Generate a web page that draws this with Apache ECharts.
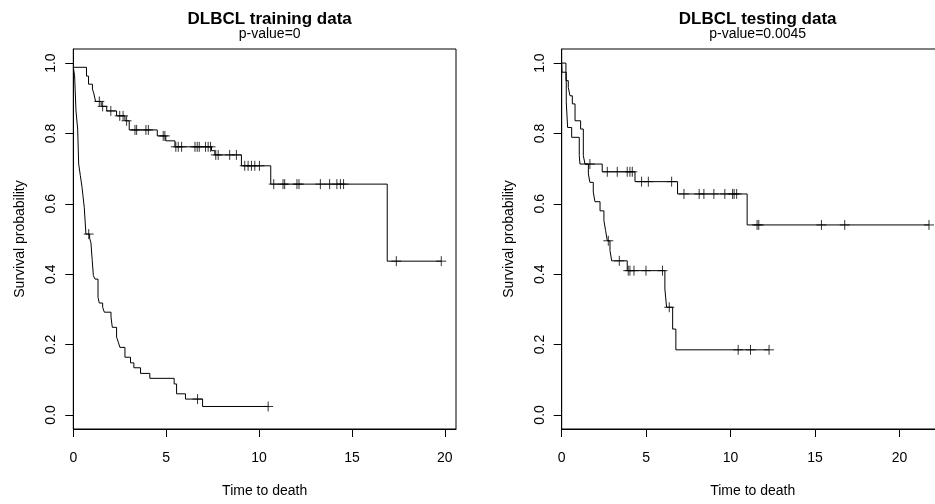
<!DOCTYPE html>
<html><head><meta charset="utf-8">
<script src="https://cdn.jsdelivr.net/npm/echarts@6/dist/echarts.min.js"></script>
<style>html,body{margin:0;padding:0;background:#fff}#c{width:935px;height:504px}</style>
</head><body><div id="c"></div>
<script>
// ---- tick labels ----
const xTicks = [0, 5, 10, 15, 20];
const yTicks = [0, 0.2, 0.4, 0.6, 0.8, 1.0];
const titles = ['DLBCL training data', 'DLBCL testing data'];
const pValues = ['p-value=0', 'p-value=0.0045'];
const xName = 'Time to death';
const yName = 'Survival probability';

// ---- training data: low-risk group ----
const trainLowTime = [0, 0.71, 0.82, 1.03, 1.10, 1.20, 1.50, 1.80, 2.33, 2.78, 3.01, 4.52, 4.98, 5.47, 7.44, 7.62, 9.05, 10.63, 16.90, 19.81];
const trainLowSurv = [0.988, 0.963, 0.940, 0.926, 0.915, 0.891, 0.877, 0.864, 0.850, 0.836, 0.810, 0.793, 0.779, 0.762, 0.751, 0.739, 0.708, 0.656, 0.437, 0.437];
const trainLowCens = [1.40, 1.58, 2.02, 2.50, 2.68, 2.87, 3.32, 3.41, 3.91, 4.04, 4.84, 4.93, 5.52, 5.65, 5.83, 6.55, 6.67, 6.78, 7.12, 7.26, 7.39, 7.67, 7.80, 8.42, 8.78, 9.23, 9.41, 9.59, 9.77, 10.02, 10.79, 11.29, 11.38, 12.04, 12.15, 13.30, 13.80, 14.19, 14.38, 14.55, 17.39, 19.81];

// ---- training data: high-risk group ----
const trainHighTime = [0, 0.07, 0.145, 0.235, 0.29, 0.38, 0.47, 0.52, 0.59, 0.68, 0.88, 0.95, 1.02, 1.08, 1.17, 1.33, 1.40, 1.58, 1.67, 2.03, 2.10, 2.33, 2.42, 2.51, 2.78, 3.08, 3.26, 3.62, 4.12, 5.43, 5.56, 6.04, 6.96, 10.49];
const trainHighSurv = [0.988, 0.964, 0.864, 0.8125, 0.713, 0.680, 0.647, 0.623, 0.590, 0.514, 0.502, 0.489, 0.439, 0.396, 0.386, 0.334, 0.318, 0.306, 0.292, 0.278, 0.249, 0.221, 0.207, 0.192, 0.164, 0.148, 0.134, 0.118, 0.104, 0.088, 0.060, 0.045, 0.024, 0.024];
const trainHighCens = [0.83, 6.69, 10.49];

// ---- testing data: low-risk group ----
const testLowTime = [0, 0.25, 0.39, 0.49, 0.63, 0.79, 1.12, 1.28, 1.38, 2.40, 4.34, 6.86, 10.98, 21.75];
const testLowSurv = [1, 0.950, 0.931, 0.907, 0.884, 0.836, 0.8125, 0.737, 0.713, 0.691, 0.663, 0.628, 0.540, 0.540];
const testLowCens = [1.67, 2.70, 3.29, 3.88, 4.04, 4.18, 4.73, 5.13, 6.51, 7.24, 8.14, 8.42, 9.01, 9.66, 10.12, 10.21, 10.36, 11.57, 11.67, 15.38, 16.76, 21.75];

// ---- testing data: high-risk group ----
const testHighTime = [0, 0.02, 0.27, 0.35, 0.59, 1.04, 1.08, 1.58, 1.67, 1.87, 1.97, 2.27, 2.50, 2.60, 2.70, 2.86, 2.96, 3.88, 6.11, 6.21, 6.57, 6.76, 12.28];
const testHighSurv = [1, 0.974, 0.890, 0.817, 0.789, 0.737, 0.713, 0.685, 0.661, 0.633, 0.606, 0.580, 0.552, 0.524, 0.495, 0.467, 0.438, 0.410, 0.358, 0.306, 0.244, 0.185, 0.185];
const testHighCens = [2.76, 3.41, 3.94, 4.04, 4.28, 4.99, 5.97, 6.37, 10.45, 11.18, 12.28];

// ---- build ----
const FONT = 'Liberation Sans, Arial, Helvetica, sans-serif';
function stepAt(times, surv, t) {
  let s = surv[0];
  for (let i = 0; i < times.length; i++) if (times[i] <= t + 1e-9) s = surv[i];
  return s;
}
function curve(times, surv, idx) {
  return {
    type: 'line', step: 'end', xAxisIndex: idx, yAxisIndex: idx,
    data: times.map((t, i) => [t, surv[i]]),
    showSymbol: false, silent: true, animation: false,
    lineStyle: { color: '#000', width: 1 }
  };
}
function censor(cens, times, surv, idx) {
  return {
    type: 'scatter', xAxisIndex: idx, yAxisIndex: idx,
    data: cens.map(t => [t, stepAt(times, surv, t)]),
    symbol: 'path://M5,0L5,10M0,5L10,5', symbolSize: 10,
    itemStyle: { color: 'transparent', borderColor: '#000', borderWidth: 1 },
    silent: true, animation: false
  };
}
const xMaxes = [19.81 * 1.04, 21.75 * 1.04];
const grids = [
  { left: 73.3, top: 49, width: 382.7, height: 380 },
  { left: 561.7, top: 49, width: 382, height: 380 }
];
const option = {
  backgroundColor: '#fff',
  animation: false,
  title: grids.map((g, i) => ({
    text: titles[i], subtext: pValues[i],
    left: g.left + g.width / 2, top: 6, textAlign: 'center', itemGap: -1,
    textStyle: { fontFamily: FONT, fontSize: 17, fontWeight: 'bold', color: '#000' },
    subtextStyle: { fontFamily: FONT, fontSize: 14, color: '#000' }
  })),
  grid: grids.map(g => Object.assign({ show: true, borderColor: '#000', borderWidth: 1, backgroundColor: 'transparent', containLabel: false, outerBoundsMode: 'none' }, g)),
  xAxis: [0, 1].map(i => ({
    gridIndex: i, type: 'value', min: 0, max: xMaxes[i],
    axisLine: { show: true, onZero: false, lineStyle: { color: '#000', width: 1 } },
    axisTick: { show: true, length: 8, customValues: xTicks, lineStyle: { color: '#000' } },
    axisLabel: { customValues: xTicks, color: '#000', fontSize: 14, margin: 22, fontFamily: FONT },
    splitLine: { show: false },
    name: xName, nameLocation: 'middle', nameGap: 55,
    nameTextStyle: { color: '#000', fontSize: 14, fontFamily: FONT }
  })),
  yAxis: [0, 1].map(i => ({
    gridIndex: i, type: 'value', min: -0.04, max: 1.04,
    axisLine: { show: true, onZero: false, lineStyle: { color: '#000', width: 1 } },
    axisTick: { show: true, length: 8, customValues: yTicks, lineStyle: { color: '#000' } },
    axisLabel: { customValues: yTicks, rotate: 90, color: '#000', fontSize: 14, margin: 15, fontFamily: FONT,
      formatter: v => Number(v).toFixed(1) },
    splitLine: { show: false },
    name: yName, nameLocation: 'middle', nameGap: 46,
    nameTextStyle: { color: '#000', fontSize: 14, fontFamily: FONT }
  })),
  series: [
    curve(trainLowTime, trainLowSurv, 0), censor(trainLowCens, trainLowTime, trainLowSurv, 0),
    curve(trainHighTime, trainHighSurv, 0), censor(trainHighCens, trainHighTime, trainHighSurv, 0),
    curve(testLowTime, testLowSurv, 1), censor(testLowCens, testLowTime, testLowSurv, 1),
    curve(testHighTime, testHighSurv, 1), censor(testHighCens, testHighTime, testHighSurv, 1)
  ]
};
const chart = echarts.init(document.getElementById('c'), null, { renderer: 'canvas' });
chart.setOption(option);
</script>
</body></html>
